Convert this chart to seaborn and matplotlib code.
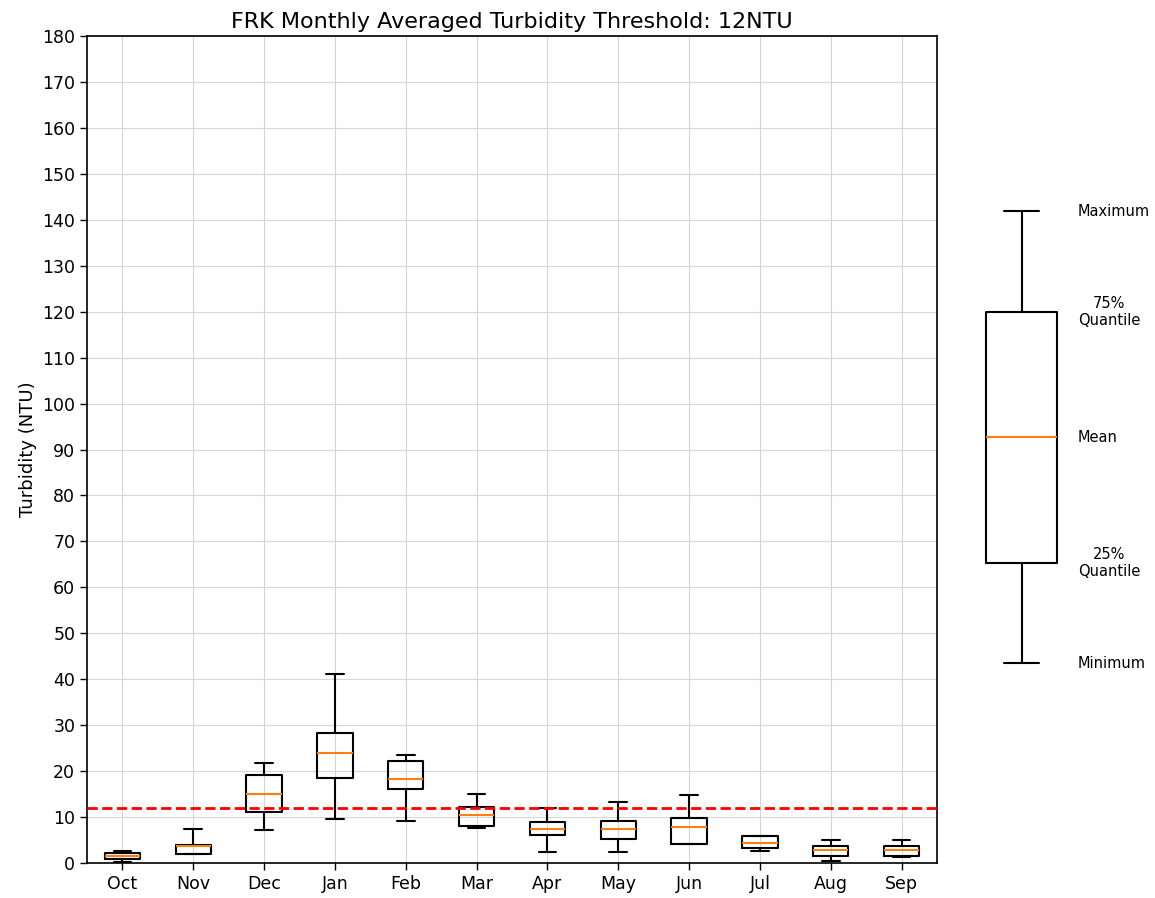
import numpy as np
import pandas as pd
import seaborn as sns
import matplotlib
matplotlib.use("Agg")
import matplotlib.pyplot as plt

# monthly five-number summaries (min, q1, median, q3, max)
months = ["Oct", "Nov", "Dec", "Jan", "Feb", "Mar", "Apr", "May", "Jun", "Jul", "Aug", "Sep"]
mins = [0.3, 2.0, 7.2, 9.6, 9.1, 7.7, 2.3, 2.3, 4.1, 2.6, 0.4, 1.2]
q1s = [0.9, 2.0, 11.1, 18.4, 16.0, 8.0, 6.2, 5.3, 4.1, 3.2, 1.5, 1.5]
medians = [1.5, 3.6, 15.0, 24.0, 18.2, 10.4, 7.4, 7.4, 7.8, 4.4, 2.8, 2.8]
q3s = [2.2, 4.0, 19.2, 28.4, 22.1, 12.2, 9.0, 9.1, 9.9, 5.8, 3.8, 3.6]
maxs = [2.6, 7.4, 21.8, 41.2, 23.6, 15.0, 11.9, 13.3, 14.8, 5.8, 5.0, 4.9]
threshold = 12

# example box for the explanation on the right
legend_vals = [43.5, 65.3, 92.7, 119.9, 141.9]
legend_labels = ["Minimum", "25%\nQuantile", "Mean", "75%\nQuantile", "Maximum"]

# long format: five points per month give exact quartiles
rows = []
for i, m in enumerate(months):
    for v in (mins[i], q1s[i], medians[i], q3s[i], maxs[i]):
        rows.append({"month": m, "value": v})
df = pd.DataFrame(rows)

sns.set_style("ticks", {"axes.grid": True, "grid.color": "#d6d6d6",
                        "axes.edgecolor": "black", "xtick.color": "black",
                        "ytick.color": "black", "text.color": "black",
                        "axes.labelcolor": "black"})
plt.rcParams["font.family"] = ["DejaVu Sans"]

fig = plt.figure(figsize=(11.55, 8.98), dpi=100)
ax = fig.add_axes([87 / 1155, 35 / 898, 850 / 1155, 827 / 898])

box_kw = dict(whis=(0, 100), fill=False, color="black", width=0.5, linewidth=1.5,
              medianprops={"color": "#ff7f0e", "linewidth": 1.5})

sns.boxplot(data=df, x="month", y="value", order=months, ax=ax, **box_kw)
ax.axhline(threshold, color="red", ls="--", lw=2, zorder=5)

ax.set_ylim(0, 180)
ax.set_yticks(np.arange(0, 181, 10))
ax.set_xlabel("")
ax.set_ylabel("Turbidity (NTU)", fontsize=13)
ax.set_title("FRK Monthly Averaged Turbidity Threshold: 12NTU", fontsize=16, color="black")
ax.tick_params(labelsize=12.5, length=5, width=1)
for s in ax.spines.values():
    s.set_linewidth(1.2)
ax.grid(True, color="#d6d6d6", lw=0.8)
ax.set_axisbelow(True)

# explanation box on the right
lax = fig.add_axes([950 / 1155, 35 / 898, 143 / 1155, 827 / 898])
sns.boxplot(y=legend_vals, ax=lax, **box_kw)
lax.set_xlim(-0.5, 0.5)
lax.set_ylim(0, 180)
lax.axis("off")
for v, lab in zip(legend_vals, legend_labels):
    lax.text(0.395, v, lab, ha="left", va="center", multialignment="center",
             fontsize=10.5, color="black", clip_on=False)

fig.savefig("out.png", dpi=100)
